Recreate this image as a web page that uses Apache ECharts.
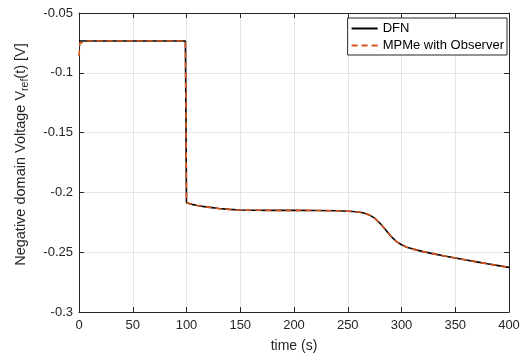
<!DOCTYPE html>
<html>
<head>
<meta charset="utf-8">
<script src="https://cdn.jsdelivr.net/npm/echarts@6/dist/echarts.min.js"></script>
<style>html,body{margin:0;padding:0;background:#fff}#c{width:527px;height:364px}</style>
</head>
<body>
<div id="c"></div>
<script>
const timeS = [0,0.5,1,2,10,20,40,60,80,99,99.5,100,105,110,115,120,130,140,150,160,180,200,220,240,250,255,260,265,270,275,280,285,290,295,300,305,310,320,330,340,350,360,370,380,390,400];
const dfnV = [-0.0734,-0.0734,-0.0734,-0.0734,-0.0734,-0.0734,-0.0734,-0.0734,-0.0734,-0.0734,-0.0734,-0.2086,-0.2100,-0.2110,-0.2117,-0.2123,-0.2135,-0.2142,-0.2147,-0.2149,-0.2150,-0.2150,-0.2151,-0.2154,-0.2157,-0.2160,-0.2164,-0.2172,-0.2188,-0.2215,-0.2258,-0.2310,-0.2365,-0.2410,-0.2438,-0.2458,-0.2472,-0.2495,-0.2514,-0.2532,-0.2549,-0.2565,-0.2581,-0.2597,-0.2612,-0.2627];
const obsV = [-0.0860,-0.0790,-0.0750,-0.0736,-0.0734,-0.0734,-0.0734,-0.0734,-0.0734,-0.0734,-0.0734,-0.2086,-0.2100,-0.2110,-0.2117,-0.2123,-0.2135,-0.2142,-0.2147,-0.2149,-0.2150,-0.2150,-0.2151,-0.2154,-0.2157,-0.2160,-0.2164,-0.2172,-0.2188,-0.2215,-0.2258,-0.2310,-0.2365,-0.2410,-0.2438,-0.2458,-0.2472,-0.2495,-0.2514,-0.2532,-0.2549,-0.2565,-0.2581,-0.2597,-0.2612,-0.2627];
const seriesNames = ['DFN', 'MPMe with Observer'];
const xTicks = {min: 0, max: 400, interval: 50};
const yTicks = {min: -0.3, max: -0.05, interval: 0.05};

const FONT = 'Liberation Sans, Arial, Helvetica, sans-serif';
const AX = '#262626';
const chart = echarts.init(document.getElementById('c'), null, {renderer: 'canvas'});
const pair = (t, v) => t.map((x, i) => [x, v[i]]);
const axisBase = {
  axisLine: {show: true, onZero: false, lineStyle: {color: AX, width: 1}},
  axisTick: {show: true, inside: true, length: 5, lineStyle: {color: AX, width: 1}},
};
chart.setOption({
  animation: false,
  backgroundColor: '#fff',
  grid: {left: 79, right: 18, top: 13, bottom: 52, containLabel: false},
  legend: {
    orient: 'vertical', right: 20, top: 18,
    padding: [4, 3, 3, 3], itemWidth: 26, itemHeight: 12, itemGap: 4, itemTextGap: 2,
    borderColor: '#262626', borderWidth: 1, backgroundColor: '#fff', borderRadius: 0,
    itemStyle: {opacity: 0, color: 'transparent', borderWidth: 0},
    textStyle: {fontFamily: FONT, fontSize: 13, color: '#000', lineHeight: 12},
    data: seriesNames
  },
  xAxis: [
    Object.assign({}, axisBase, {
      type: 'value', position: 'bottom', min: xTicks.min, max: xTicks.max, interval: xTicks.interval,
      name: 'time (s)', nameLocation: 'middle', nameGap: 27,
      nameTextStyle: {fontFamily: FONT, fontSize: 14, color: AX},
      axisLabel: {fontFamily: FONT, fontSize: 13, color: AX, margin: 7},
      splitLine: {show: true, lineStyle: {color: '#e6e6e6', width: 1}}
    }),
    Object.assign({}, axisBase, {
      type: 'value', position: 'top', min: xTicks.min, max: xTicks.max, interval: xTicks.interval,
      axisLabel: {show: false}, splitLine: {show: false}
    })
  ],
  yAxis: [
    Object.assign({}, axisBase, {
      type: 'value', position: 'left', min: yTicks.min, max: yTicks.max, interval: yTicks.interval,
      name: '{n|Negative domain Voltage V}{s|ref}{n|(t) [V]}', nameLocation: 'middle', nameGap: 48, nameRotate: 90,
      nameTextStyle: {fontFamily: FONT, fontSize: 14.5, color: AX, padding: [0, 0, 0, 16],
        rich: {n: {fontFamily: FONT, fontSize: 14.5, color: AX}, s: {fontFamily: FONT, fontSize: 10.5, color: AX, padding: [9, 0, 0, 0]}}},
      axisLabel: {fontFamily: FONT, fontSize: 13, color: AX, margin: 6},
      splitLine: {show: true, lineStyle: {color: '#e6e6e6', width: 1}}
    }),
    Object.assign({}, axisBase, {
      type: 'value', position: 'right', min: yTicks.min, max: yTicks.max, interval: yTicks.interval,
      axisLabel: {show: false}, splitLine: {show: false}
    })
  ],
  series: [
    {name: seriesNames[0], type: 'line', data: pair(timeS, dfnV), showSymbol: false, symbol: 'none',
     lineStyle: {color: '#000000', width: 1.6}, itemStyle: {color: '#000000'}, z: 2},
    {name: seriesNames[1], type: 'line', data: pair(timeS, obsV), showSymbol: false, symbol: 'none',
     lineStyle: {color: '#D95319', width: 1.6, type: [6, 4]}, itemStyle: {color: '#D95319'}, z: 3}
  ]
});
</script>
</body>
</html>
